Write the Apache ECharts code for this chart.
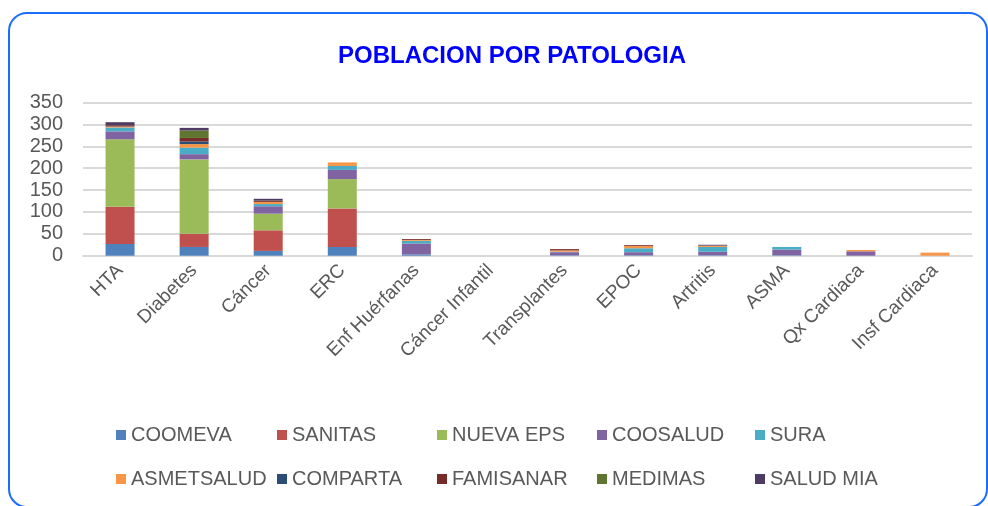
<!DOCTYPE html>
<html>
<head>
<meta charset="utf-8">
<script src="https://cdn.jsdelivr.net/npm/echarts@6/dist/echarts.min.js"></script>
<style>html,body{margin:0;padding:0;background:#fff}#c{width:988px;height:506px}</style>
</head>
<body>
<div id="c"></div>
<script>
var categories = ['HTA','Diabetes','Cáncer','ERC','Enf Huérfanas','Cáncer Infantil','Transplantes','EPOC','Artritis','ASMA','Qx Cardiaca','Insf Cardiaca'];
var coomeva    = [27, 20, 11, 20, 3, 0, 1, 1, 1, 1, 0, 0];
var sanitas    = [85, 30, 47, 88, 0, 0, 0, 0, 0, 0, 0, 0];
var nuevaEps   = [154, 170, 38, 67, 0, 0, 0, 0, 0, 0, 0, 0];
var coosalud   = [18, 12, 17, 21, 25, 0, 7, 7, 8, 13, 10, 0];
var sura       = [9, 15, 5, 9, 6, 0, 1, 9, 11, 6, 0, 0];
var asmetsalud = [2, 8, 5, 8, 2, 0, 3, 5, 3, 0, 3, 7];
var comparta   = [0, 6, 0, 0, 0, 0, 0, 0, 0, 0, 0, 0];
var famisanar  = [3, 8, 3, 0, 2, 0, 3, 2, 0, 0, 0, 0];
var medimas    = [0, 17, 0, 0, 0, 0, 0, 0, 0, 0, 0, 0];
var saludMia   = [7, 6, 4, 0, 0, 0, 0, 0, 2, 0, 0, 0];
var yTicks = [0, 50, 100, 150, 200, 250, 300, 350];

var seriesNames = ['COOMEVA','SANITAS','NUEVA EPS','COOSALUD','SURA','ASMETSALUD','COMPARTA','FAMISANAR','MEDIMAS','SALUD MIA'];
var seriesData = [coomeva, sanitas, nuevaEps, coosalud, sura, asmetsalud, comparta, famisanar, medimas, saludMia];
var colors = ['#4F81BD','#C0504D','#9BBB59','#8064A2','#4BACC6','#F79646','#2C4D75','#772C2A','#5F7530','#4D3B62'];
var legendLeft = [111, 272, 432, 592, 750];
var legendTop = [420, 464];

var chart = echarts.init(document.getElementById('c'), null, {renderer: 'canvas'});
var series = seriesNames.map(function(n, i){
  return {
    name: n, type: 'bar', stack: 'total', barWidth: 29,
    itemStyle: {color: colors[i]},
    data: seriesData[i]
  };
});
var legends = seriesNames.map(function(n, i){
  return {
    data: [n], left: legendLeft[i % 5], top: legendTop[Math.floor(i / 5)],
    itemWidth: 10, itemHeight: 10, icon: 'rect', selectedMode: false,
    textStyle: {color: '#595959', fontSize: 20, fontFamily: 'Liberation Sans, Arial, sans-serif'}
  };
});
chart.setOption({
  animation: false,
  color: colors,
  graphic: [{
    type: 'rect', shape: {x: 9, y: 13, width: 978, height: 494, r: 18},
    style: {fill: 'none', stroke: '#1a6dff', lineWidth: 2}, z: 100
  }],
  title: {
    text: 'POBLACION POR PATOLOGIA', left: 333, top: 39,
    textStyle: {color: '#0000ff', fontSize: 24, fontWeight: 'bold', fontFamily: 'Liberation Sans, Arial, sans-serif'}
  },
  legend: legends,
  grid: {left: 83, right: 16, top: 102.5, bottom: 250.3, containLabel: false},
  xAxis: {
    type: 'category', data: categories,
    axisLine: {show: true, lineStyle: {color: '#d9d9d9', width: 2}},
    axisTick: {show: false},
    axisLabel: {rotate: 45, color: '#595959', fontSize: 19, margin: 12, interval: 0, fontFamily: 'Liberation Sans, Arial, sans-serif'}
  },
  yAxis: {
    type: 'value', min: yTicks[0], max: yTicks[yTicks.length-1], interval: 50,
    axisLine: {show: false}, axisTick: {show: false},
    splitLine: {lineStyle: {color: '#d9d9d9', width: 2}},
    axisLabel: {color: '#595959', fontSize: 20, margin: 20, fontFamily: 'Liberation Sans, Arial, sans-serif'}
  },
  series: series
});
</script>
</body>
</html>
